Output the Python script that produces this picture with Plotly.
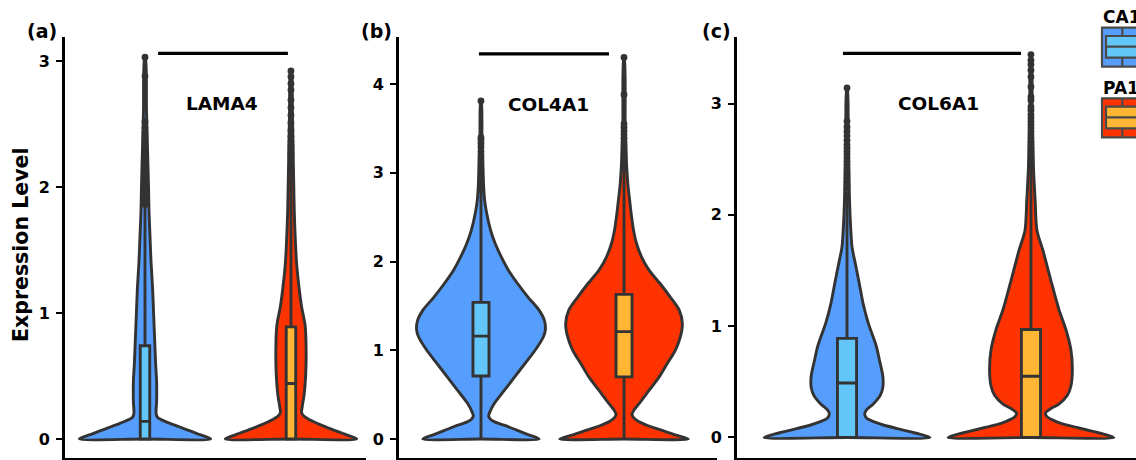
import plotly.graph_objects as go

# ------------------------------------------------------------------ data
genes = ["LAMA4", "COL4A1", "COL6A1"]
panel_tags = ["(a)", "(b)", "(c)"]
groups = ["CA1", "PA1"]

# violin outlines: expression level and relative density
lama4_ca1_y = [0, 0.03, 0.06, 0.09, 0.12, 0.15, 0.17, 0.2, 0.3, 0.45, 0.6, 0.8, 1.0, 1.2, 1.4, 1.6, 1.8, 2.0, 2.3, 2.6, 3.03]
lama4_ca1_d = [65, 56, 46, 36, 26, 17, 12.5, 11, 11.5, 11.5, 10.5, 9.5, 8.5, 7.5, 6, 5, 4, 3.5, 2.5, 1.5, 0.4]
lama4_pa1_y = [0, 0.03, 0.06, 0.09, 0.12, 0.15, 0.18, 0.21, 0.25, 0.35, 0.5, 0.7, 0.9, 1.05, 1.2, 1.4, 1.6, 1.8, 2.0, 2.3, 2.6, 2.93]
lama4_pa1_d = [65, 56, 46, 36, 27, 19, 13, 10.5, 11, 13, 14.5, 15, 14, 10.5, 8, 5.5, 4.2, 3.3, 2.8, 2.1, 1.4, 0.4]

col4a1_ca1_y = [0, 0.05, 0.1, 0.15, 0.19, 0.22, 0.26, 0.3, 0.4, 0.55, 0.7, 0.85, 1.0, 1.15, 1.23, 1.34, 1.45, 1.6, 1.75, 1.9, 2.05, 2.2, 2.35, 2.55, 2.7, 3.0, 3.4, 3.81]
col4a1_ca1_d = [57, 46, 35, 24, 14, 9.5, 7.5, 8.5, 13, 23, 33, 43, 53, 61, 63, 62, 57, 46, 36, 27, 20, 14, 9.5, 5.5, 3.5, 2, 1, 0.3]
col4a1_pa1_y = [0, 0.05, 0.1, 0.15, 0.2, 0.24, 0.28, 0.32, 0.4, 0.55, 0.7, 0.85, 1.0, 1.15, 1.3, 1.45, 1.6, 1.75, 1.9, 2.05, 2.2, 2.35, 2.55, 2.7, 2.85, 3.1, 3.5, 4.3]
col4a1_pa1_d = [64, 50, 37, 24, 14, 9.5, 8, 9.5, 15, 25, 35, 43, 51, 56, 58, 55, 46, 36, 25, 17.5, 12.5, 9.5, 7, 5.5, 4, 2.5, 1.2, 0.3]

col6a1_ca1_y = [0, 0.03, 0.052, 0.08, 0.112, 0.14, 0.172, 0.21, 0.25, 0.3, 0.38, 0.45, 0.55, 0.7, 0.82, 1.03, 1.2, 1.39, 1.55, 1.71, 1.86, 2.0, 2.3, 2.7, 3.14]
col6a1_ca1_d = [82, 72, 62, 50, 36, 27, 19.5, 17.5, 19.5, 26, 33, 35.5, 35.5, 32, 29, 21, 16, 12, 8.5, 5, 3.8, 3, 2, 1.2, 0.3]
col6a1_pa1_y = [0, 0.03, 0.052, 0.09, 0.127, 0.16, 0.187, 0.22, 0.26, 0.3, 0.38, 0.46, 0.61, 0.79, 0.97, 1.15, 1.41, 1.68, 1.86, 2.13, 2.43, 2.9, 3.44]
col6a1_pa1_d = [83, 73, 63, 46, 30, 21, 16, 14.5, 20, 28, 36.5, 40, 41.5, 40, 35, 28, 20, 12, 6, 4.2, 2.5, 1.2, 0.3]

# box statistics per gene, order: CA1, PA1
lama4_q1 = [0.0, 0.0]
lama4_median = [0.14, 0.44]
lama4_q3 = [0.74, 0.89]
lama4_low = [0.0, 0.0]
lama4_high = [1.84, 2.22]

col4a1_q1 = [0.71, 0.70]
col4a1_median = [1.16, 1.21]
col4a1_q3 = [1.54, 1.63]
col4a1_low = [0.0, 0.0]
col4a1_high = [2.78, 3.02]

col6a1_q1 = [0.0, 0.0]
col6a1_median = [0.49, 0.55]
col6a1_q3 = [0.89, 0.97]
col6a1_low = [0.0, 0.0]
col6a1_high = [2.21, 2.42]

# outlying cells
lama4_ca1_out = [1.86, 1.89, 1.92, 1.95, 1.98, 2.01, 2.04, 2.07, 2.1, 2.13, 2.16, 2.19, 2.22, 2.25,
                 2.28, 2.31, 2.34, 2.37, 2.4, 2.43, 2.47, 2.52, 2.88, 3.03]
lama4_pa1_out = [2.24, 2.27, 2.3, 2.33, 2.36, 2.4, 2.45, 2.51, 2.57, 2.63, 2.69, 2.77, 2.82, 2.875, 2.92]
col4a1_ca1_out = [2.81, 2.84, 2.87, 2.9, 2.93, 2.96, 2.99, 3.02, 3.05, 3.08, 3.11, 3.14, 3.17, 3.2,
                  3.24, 3.29, 3.33, 3.37, 3.4, 3.81]
col4a1_pa1_out = [3.05, 3.08, 3.11, 3.14, 3.17, 3.2, 3.23, 3.26, 3.29, 3.32, 3.35, 3.39, 3.43, 3.47,
                  3.51, 3.55, 3.88, 4.3]
col6a1_ca1_out = [2.24, 2.27, 2.3, 2.33, 2.36, 2.39, 2.42, 2.45, 2.48, 2.51, 2.54, 2.57, 2.6, 2.63,
                  2.67, 2.71, 2.75, 2.79, 2.84, 3.14]
col6a1_pa1_out = [2.45, 2.48, 2.51, 2.54, 2.57, 2.6, 2.63, 2.66, 2.69, 2.72, 2.75, 2.78, 2.81, 2.84,
                  2.87, 2.9, 2.94, 2.97, 3.03, 3.06, 3.15, 3.24, 3.3, 3.35, 3.39, 3.44]

# y-axis ticks
lama4_ticks = [0, 1, 2, 3]
col4a1_ticks = [0, 1, 2, 3, 4]
col6a1_ticks = [0, 1, 2, 3]

# ------------------------------------------------------------------ style
W, H = 1136, 460
FONT = "DejaVu Sans"
OUTLINE = "#333333"
VIOLIN_FILL = ["#569EFD", "#FF3300"]
BOX_FILL = ["#62C6F8", "#FFB634"]
HALF_WIDTH = 0.45
LW = 2.9


def px(x):
    return x / W


def py(y):
    return 1 - y / H


y_dom = [2.5 / H, 423 / H]
panels = [
    dict(dom=[65 / W, 366 / W], xr=[-0.548, 1.514], yr=[-0.147, 3.19], boxw=0.065,
         bar=(0.09, 0.979, 3.06), lab=(0.527, 2.66), tag=42),
    dict(dom=[399 / W, 717 / W], xr=[-0.573, 1.650], yr=[-0.208, 4.53], boxw=0.112,
         bar=(-0.014, 0.895, 4.34), lab=(0.469, 3.775), tag=377),
    dict(dom=[737 / W, 1.0], xr=[-0.598, 1.571], yr=[-0.180, 3.598], boxw=0.104,
         bar=(-0.022, 0.946, 3.45), lab=(0.5, 3.0), tag=716),
]

violin_data = [
    [(lama4_ca1_y, lama4_ca1_d), (lama4_pa1_y, lama4_pa1_d)],
    [(col4a1_ca1_y, col4a1_ca1_d), (col4a1_pa1_y, col4a1_pa1_d)],
    [(col6a1_ca1_y, col6a1_ca1_d), (col6a1_pa1_y, col6a1_pa1_d)],
]
box_data = [
    (lama4_q1, lama4_median, lama4_q3, lama4_low, lama4_high),
    (col4a1_q1, col4a1_median, col4a1_q3, col4a1_low, col4a1_high),
    (col6a1_q1, col6a1_median, col6a1_q3, col6a1_low, col6a1_high),
]
out_data = [
    [lama4_ca1_out, lama4_pa1_out],
    [col4a1_ca1_out, col4a1_pa1_out],
    [col6a1_ca1_out, col6a1_pa1_out],
]
tick_data = [lama4_ticks, col4a1_ticks, col6a1_ticks]

fig = go.Figure()
layout_axes = {}
shapes = []
annotations = []

for p, cfg in enumerate(panels):
    sfx = "" if p == 0 else str(p + 1)
    xa, ya = "x" + sfx, "y" + sfx
    # overlay axes (drawn above the violins) for boxes and outliers
    osfx = str(p + 4)
    xo, yo = "x" + osfx, "y" + osfx
    # violins
    for g in range(2):
        ys, ds = violin_data[p][g]
        m = max(ds)
        right = [g + HALF_WIDTH * d / m for d in ds]
        left = [g - HALF_WIDTH * d / m for d in ds]
        xs = [left[0], g] + right + left[::-1]
        yy = [ys[0], ys[0]] + ys + ys[::-1]
        fig.add_trace(go.Scatter(
            x=xs, y=yy, xaxis=xa, yaxis=ya, mode="lines", fill="toself",
            fillcolor=VIOLIN_FILL[g], line=dict(color=OUTLINE, width=LW, shape="spline", smoothing=0.8),
            hoverinfo="skip", showlegend=False))
    # boxes
    q1, med, q3, lo, hi = box_data[p]
    for g in range(2):
        fig.add_trace(go.Box(
            x=[g], q1=[q1[g]], median=[med[g]], q3=[q3[g]], lowerfence=[lo[g]], upperfence=[hi[g]],
            xaxis=xo, yaxis=yo, width=cfg["boxw"], whiskerwidth=0, boxpoints=False,
            fillcolor=BOX_FILL[g], line=dict(color=OUTLINE, width=LW), showlegend=False,
            hoverinfo="skip"))
    # outliers
    for g in range(2):
        vals = out_data[p][g]
        fig.add_trace(go.Scatter(
            x=[g] * len(vals), y=vals, xaxis=xo, yaxis=yo, mode="markers",
            marker=dict(size=6.8, color=OUTLINE), showlegend=False, hoverinfo="skip"))

    layout_axes["xaxis" + sfx] = dict(
        domain=cfg["dom"], range=cfg["xr"], anchor=ya, showline=True, linecolor="black",
        linewidth=3, showgrid=False, zeroline=False, showticklabels=False, ticks="",
        fixedrange=True)
    layout_axes["yaxis" + sfx] = dict(
        domain=y_dom, range=cfg["yr"], anchor=xa, showline=True, linecolor="black",
        linewidth=3, showgrid=False, zeroline=False, ticks="outside", ticklen=6, tickwidth=2,
        tickcolor="black", tickvals=tick_data[p], ticktext=[str(t) for t in tick_data[p]],
        tickfont=dict(family=FONT, size=16, color="black", weight="bold"),
        ticklabelstandoff=3, fixedrange=True)
    layout_axes["xaxis" + osfx] = dict(
        domain=cfg["dom"], range=cfg["xr"], anchor=yo, overlaying=xa, visible=False,
        showgrid=False, zeroline=False, fixedrange=True)
    layout_axes["yaxis" + osfx] = dict(
        domain=y_dom, range=cfg["yr"], anchor=xo, overlaying=ya, visible=False,
        showgrid=False, zeroline=False, fixedrange=True)

    bx0, bx1, by = cfg["bar"]
    shapes.append(dict(type="line", xref=xa, yref=ya, x0=bx0, x1=bx1, y0=by, y1=by,
                       line=dict(color="black", width=3.2)))
    lx, ly = cfg["lab"]
    annotations.append(dict(x=lx, y=ly, xref=xa, yref=ya, text=genes[p], showarrow=False,
                            font=dict(family=FONT, size=18.5, color="black", weight="bold"),
                            xanchor="center", yanchor="middle"))
    annotations.append(dict(x=px(cfg["tag"]), y=py(31), xref="paper", yref="paper",
                            text=panel_tags[p], showarrow=False,
                            font=dict(family=FONT, size=19, color="black", weight="bold"),
                            xanchor="center", yanchor="middle"))

# y title
annotations.append(dict(x=px(21), y=py(245), xref="paper", yref="paper", text="Expression Level",
                        textangle=-90, showarrow=False,
                        font=dict(family=FONT, size=20.5, color="black", weight="bold"),
                        xanchor="center", yanchor="middle"))

# legend (partially cut by the right edge, as in the source figure)
leg_rows = [(17, 27.7, 66.7, 36, 57.7, 46.7), (88, 98.3, 137.3, 106.7, 128.3, 117.3)]
for g, (ty, o0, o1, i0, i1, mid) in enumerate(leg_rows):
    annotations.append(dict(x=px(1101), y=py(ty), xref="paper", yref="paper", text=groups[g],
                            showarrow=False, xanchor="left", yanchor="middle",
                            font=dict(family=FONT, size=17, color="black", weight="bold")))
    shapes.append(dict(type="rect", xref="paper", yref="paper", x0=px(1102), x1=px(1160),
                       y0=py(o1), y1=py(o0), fillcolor=VIOLIN_FILL[g],
                       line=dict(color="#4a4a4a", width=2.2)))
    shapes.append(dict(type="rect", xref="paper", yref="paper", x0=px(1106), x1=px(1160),
                       y0=py(i1), y1=py(i0), fillcolor=BOX_FILL[g],
                       line=dict(color="#4a4a4a", width=2.2)))
    shapes.append(dict(type="line", xref="paper", yref="paper", x0=px(1106), x1=px(1160),
                       y0=py(mid), y1=py(mid), line=dict(color="#4a4a4a", width=2.2)))
    for a0, a1 in [(o0, i0), (i1, o1)]:
        shapes.append(dict(type="line", xref="paper", yref="paper", x0=px(1122.3), x1=px(1122.3),
                           y0=py(a0), y1=py(a1), line=dict(color="#4a4a4a", width=2.2)))

fig.update_layout(
    width=W, height=H, autosize=False,
    margin=dict(l=0, r=0, t=0, b=0, pad=0),
    paper_bgcolor="white", plot_bgcolor="white",
    showlegend=False, shapes=shapes, annotations=annotations,
    **layout_axes)

fig.write_html("out.html", config={"displayModeBar": False},
               post_script="document.body.style.margin='0';document.body.style.overflow='hidden';")
